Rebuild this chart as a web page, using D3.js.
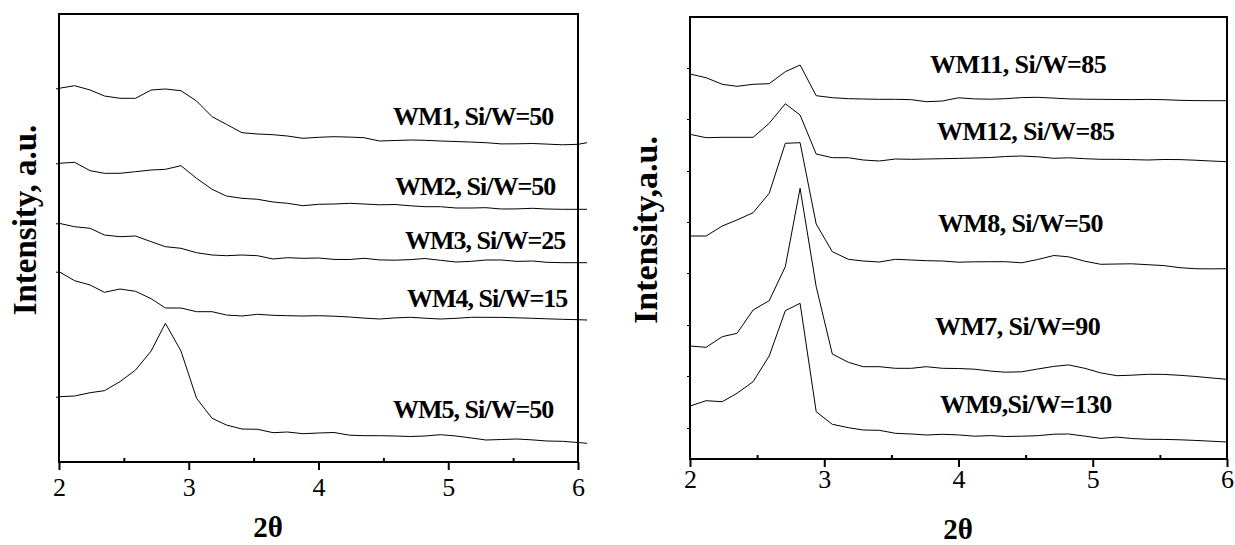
<!DOCTYPE html>
<html lang="en">
<head>
    <meta charset="UTF-8">
    <title>XRD patterns</title>
    <script src="https://d3js.org/d3.v7.min.js"></script>
    <style>
        body { margin: 0; background: #fff; }
        svg { display: block; font-family: "Liberation Serif", "Times New Roman", serif; }
        .frame { fill: none; stroke: #000; stroke-width: 2; }
        .curve { fill: none; stroke: #000; stroke-width: 1; }
        .tick line { stroke: #000; stroke-width: 2; }
        .label { font-weight: bold; font-size: 26px; }
        .title { font-weight: bold; }
    </style>
</head>
<body>
<div id="chart"></div>
<script>
// 2theta positions of the measured points (degrees)
const twoTheta = [2.00, 2.12, 2.24, 2.35, 2.47, 2.59, 2.71, 2.82, 2.94, 3.06, 3.18, 3.29,
    3.41, 3.53, 3.65, 3.76, 3.88, 4.00, 4.12, 4.24, 4.35, 4.47, 4.59, 4.71, 4.82, 4.94,
    5.06, 5.18, 5.29, 5.41, 5.53, 5.65, 5.76, 5.88, 6.00, 6.07];

const xTicks = [2, 3, 4, 5, 6];
const xMinorTicks = [2.5, 3.5, 4.5, 5.5];

// left panel intensities (a.u., stacked)
const wm1 = [373.7, 376.3, 372, 366, 363.7, 363.7, 372, 373, 371.3, 361, 345.3, 337.7, 329.3, 328, 327.3, 326, 323.7, 324.7,
    325.3, 324.9, 324.3, 321, 321.5, 322, 321.7, 321, 320.5, 319.9, 319.3, 318.1, 318.2, 318.5, 317.9, 317.2, 317.7, 319.3];
const wm2 = [298.7, 299.7, 291.3, 288.7, 288.7, 290.3, 292, 292.7, 296.3, 283.7, 272.7, 266, 263.7, 262.7, 260, 258.7, 256.3, 257.7,
    258, 258.7, 258, 257.2, 257.5, 256.2, 255.3, 255.3, 254, 254, 254.3, 253, 253.1, 253.7, 253, 252.7, 252.7, 252.7];
const wm3 = [238.7, 235.3, 233.7, 227, 225.3, 226, 220.3, 215.3, 213.7, 209.3, 207, 206.3, 207, 206.3, 203, 204.3, 203.7, 204,
    202.6, 202.5, 203.7, 202.1, 201.8, 202.4, 203.5, 201.7, 200, 200.7, 202, 202, 200.6, 201, 199.7, 199.3, 199.3, 199.3];
const wm4 = [190.3, 181.3, 177, 169.7, 173, 170.7, 163.3, 154, 154, 150.3, 150.3, 147, 146, 147.7, 146.7, 146.3, 146, 146.3,
    145.8, 145, 143.9, 143, 144.1, 144.7, 143.8, 143, 143.7, 144.7, 144.7, 144.6, 144.2, 143.7, 143.2, 142.7, 142.3, 142];
const wm5 = [65.3, 66, 69.3, 71.3, 80.3, 92, 111, 138.7, 111, 63.7, 43.7, 37, 33, 32.7, 29.3, 30, 28.3, 29,
    29.5, 26.8, 26.3, 26.3, 26, 25.5, 26, 27.3, 26, 24, 22, 22.5, 23, 22.1, 21, 20.7, 19.5, 18.7];

// right panel intensities (a.u., stacked), 2.00 .. 6.00
const wm11 = [385, 381.3, 374.7, 372.7, 374.7, 375.3, 387.3, 394, 363.3, 361.3, 360.3, 360, 359.7, 359.7, 359.3, 357.3, 358,
    361.2, 360.1, 359.8, 360.3, 361.4, 361.7, 360.9, 360.1, 359.8, 359.7, 359.5, 359.4, 359.6, 359.3, 358.7, 358.4, 358.3, 358.3];
const wm12 = [324.7, 321.3, 321.7, 321.7, 321.7, 335.7, 355.3, 344, 305, 301.3, 301.3, 299, 298, 300, 299.7, 300, 300.3,
    300.6, 301, 301.5, 302.5, 303, 302.2, 300.7, 301.2, 300.3, 299.7, 299.7, 299.4, 299, 299.5, 299.4, 298.8, 298, 297.3];
const wm8 = [223, 223, 233, 239, 246.3, 265.7, 315.7, 316.3, 235, 207.3, 199.7, 198, 197, 199.7, 199, 198.3, 198,
    196.8, 197.2, 197.3, 197.3, 196.2, 199.5, 203.5, 202.2, 197.8, 194.7, 195, 195.2, 194.3, 193.4, 191.3, 190.3, 190.1, 190.3];
const wm7 = [113, 111.7, 122.3, 125.7, 149, 158.3, 192.3, 270.7, 172.3, 105, 96.7, 92.3, 92.3, 90.7, 90.7, 92.3, 90.7,
    90.5, 89.8, 87.9, 86.8, 87.2, 90, 92.6, 94.1, 90.7, 86.1, 83.3, 83.8, 84.7, 84.6, 83.7, 82.6, 81.1, 79.7];
const wm9 = [53, 58.3, 57.3, 65.7, 77.3, 103, 148.3, 155.7, 47.3, 34.7, 31.3, 29, 28.7, 25.7, 25, 24, 24.7,
    24.1, 22.8, 23.4, 22.5, 22.8, 23.3, 24.8, 25, 22.9, 20.6, 21.9, 20.5, 19.7, 19.6, 19.2, 18.6, 17.8, 17];

const leftNames = ['WM1, Si/W=50', 'WM2, Si/W=50', 'WM3, Si/W=25', 'WM4, Si/W=15', 'WM5, Si/W=50'];
const rightNames = ['WM11, Si/W=85', 'WM12, Si/W=85', 'WM8, Si/W=50', 'WM7, Si/W=90', 'WM9,Si/W=130'];
const rightYTicks = [31, 83, 134, 186, 237, 288, 340, 391];

// where the sample names sit, in data units [2theta, intensity]
const leftLabelAt = [[4.574, 337], [4.590, 267], [4.667, 213], [4.682, 155], [4.574, 44]];
const rightLabelAt = [[3.788, 386], [3.840, 319], [3.847, 227], [3.825, 124], [3.862, 46]];

const serif = '"Liberation Serif", "Times New Roman", serif';

const svg = d3.select('#chart').append('svg')
    .attr('width', 1235)
    .attr('height', 545);

function panel(opt) {
    const x = d3.scaleLinear().domain([2, 6]).range([opt.left, opt.right]);
    const y = d3.scaleLinear().domain([0, opt.yMax]).range([opt.bottom, opt.top]);
    const g = svg.append('g');

    // curves
    const line = d3.line().x(d => x(d[0])).y(d => y(d[1]));
    opt.series.forEach(s => {
        const pts = s.map((v, i) => [twoTheta[i], v]);
        g.append('path').attr('class', 'curve').attr('d', line(pts));
    });

    // x axis, major ticks out, minor ticks in
    const ax = g.append('g')
        .attr('transform', `translate(0,${opt.bottom})`)
        .call(d3.axisBottom(x).tickValues(xTicks).tickFormat(d3.format('d'))
            .tickSize(8).tickPadding(opt.tickPad));
    ax.select('.domain').remove();
    ax.attr('font-family', serif).attr('font-size', 26);
    ax.selectAll('text')
        .style('font-family', serif)
        .style('font-size', '26px')
        .attr('fill', '#000');
    const minor = g.append('g')
        .attr('transform', `translate(0,${opt.bottom})`)
        .call(d3.axisBottom(x).tickValues(xMinorTicks).tickFormat('').tickSize(-4));
    minor.select('.domain').remove();

    // y ticks (no labels)
    const ay = g.append('g')
        .attr('transform', `translate(${opt.left},0)`)
        .call(d3.axisLeft(y).tickValues(opt.yTicks).tickFormat('').tickSize(3));
    ay.select('.domain').remove();
    ay.selectAll('.tick line').style('stroke-width', 1);

    g.append('rect').attr('class', 'frame')
        .attr('x', opt.left).attr('y', opt.top)
        .attr('width', opt.right - opt.left).attr('height', opt.bottom - opt.top);

    // sample names
    opt.names.forEach((n, i) => {
        g.append('text').attr('class', 'label')
            .attr('x', x(opt.labelAt[i][0]))
            .attr('y', y(opt.labelAt[i][1]))
            .style('letter-spacing', opt.spacing + 'px')
            .text(n);
    });

    // axis titles
    g.append('text').attr('class', 'title')
        .attr('x', opt.xTitle[0]).attr('y', opt.xTitle[1])
        .attr('text-anchor', 'middle')
        .style('font-size', '29px')
        .text('2θ');
    g.append('text').attr('class', 'title')
        .attr('transform', `translate(${opt.yTitle[0]},${opt.yTitle[1]}) rotate(-90)`)
        .attr('text-anchor', 'middle')
        .style('font-size', opt.yTitleSize + 'px')
        .text(opt.yTitleText);
}

panel({
    left: 59, right: 578, top: 14, bottom: 462, yMax: 448, tickPad: 8,
    series: [wm1, wm2, wm3, wm4, wm5],
    names: leftNames, labelAt: leftLabelAt, spacing: -1,
    yTicks: [wm1[0], wm2[0], wm3[0], wm4[0], wm5[0]],
    xTitle: [268, 537], yTitle: [36, 220], yTitleSize: 33,
    yTitleText: 'Intensity, a.u.'
});

panel({
    left: 690, right: 1227, top: 17, bottom: 459, yMax: 442, tickPad: 3,
    series: [wm11, wm12, wm8, wm7, wm9],
    names: rightNames, labelAt: rightLabelAt, spacing: -0.6,
    yTicks: rightYTicks,
    xTitle: [958, 539], yTitle: [657, 230], yTitleSize: 34,
    yTitleText: 'Intensity,a.u.'
});
</script>
</body>
</html>
